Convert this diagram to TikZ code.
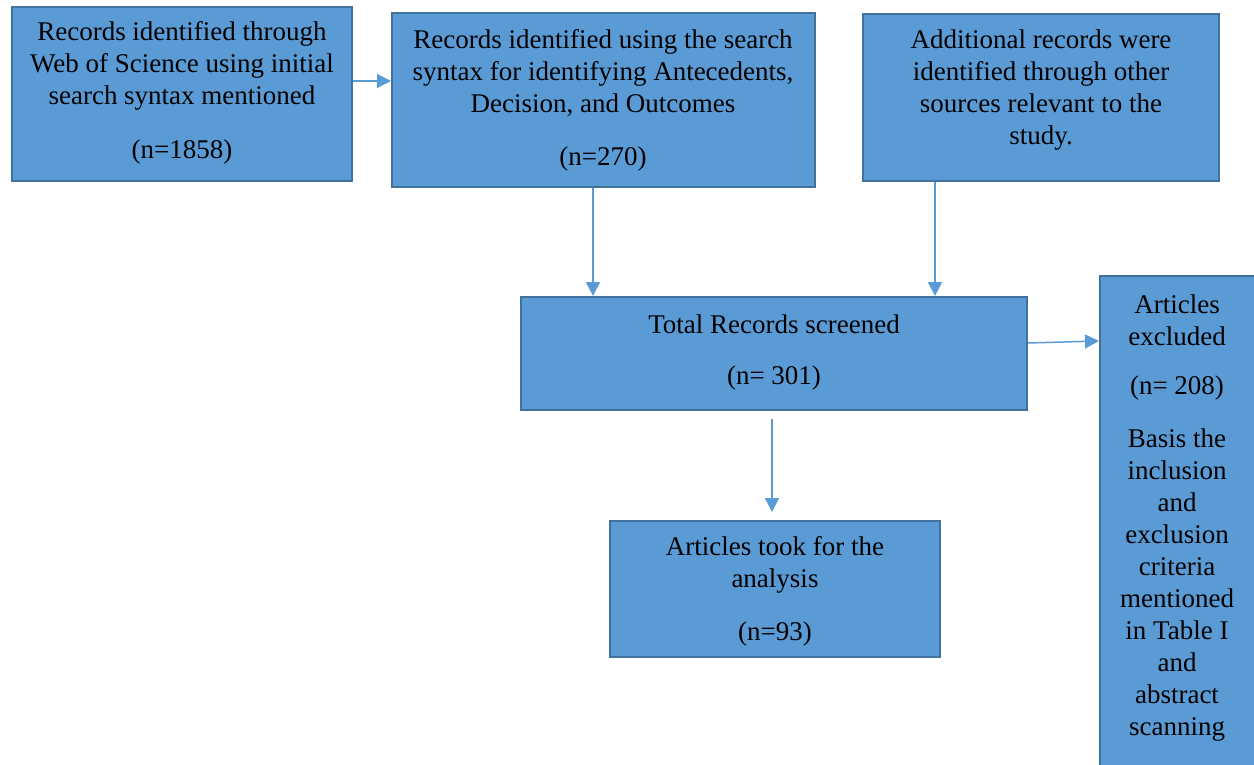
\documentclass[tikz,border=0pt]{standalone}
\usepackage{fontspec}
\setmainfont{Liberation Serif}
\usetikzlibrary{arrows.meta}
\definecolor{boxfill}{HTML}{5B9BD5}
\definecolor{boxline}{HTML}{41719C}
\begin{document}
\begin{tikzpicture}[x=1pt,y=-1pt,
  box/.style={draw=boxline, line width=2pt, fill=boxfill, rectangle, inner sep=0pt},
  txt/.style={inner sep=0pt, align=center, font=\fontsize{27}{32}\selectfont, text=black},
  conn/.style={draw=boxfill, line width=1.5pt, -{Triangle[width=14pt,length=14pt]}}]
\useasboundingbox (0,0) rectangle (1254,765);
\clip (0,0) rectangle (1254,765);
% boxes
\node[box, minimum width=340pt, minimum height=174pt] (A) at (182,94) {};
\node[box, minimum width=423pt, minimum height=174pt] (B) at (603.5,100) {};
\node[box, minimum width=356pt, minimum height=167pt] (C) at (1041,97.5) {};
\node[box, minimum width=506pt, minimum height=113pt] (D) at (774,353.5) {};
\node[box, minimum width=330pt, minimum height=136pt] (E) at (775,589) {};
\node[box, minimum width=170pt, minimum height=514pt] (F) at (1185,533) {};
% texts
\node[txt] (tA1) at (182,66) {Records identified through\\Web of Science using initial\\search syntax mentioned};
\node[txt] (tA2) at (182,152) {(n=1858)};
\node[txt] (tB1) at (603,73) {Records identified using the search\\syntax for identifying Antecedents,\\Decision, and Outcomes};
\node[txt] (tB2) at (603,159) {(n=270)};
\node[txt] (tC1) at (1041,90) {Additional records were\\identified through other\\sources relevant to the\\study.};
\node[txt] (tD1) at (774,324) {Total Records screened};
\node[txt] (tD2) at (774,378) {(n= 301)};
\node[txt] (tE1) at (775,565) {Articles took for the\\analysis};
\node[txt] (tE2) at (775,634) {(n=93)};
\node[txt] (tF1) at (1177,320) {Articles\\excluded};
\node[txt] (tF2) at (1177,388) {(n= 208)};
\node[txt] (tF3) at (1177,585) {Basis the\\inclusion\\and\\exclusion\\criteria\\mentioned\\in Table I\\and\\abstract\\scanning};
% helper coordinates
\coordinate (a1) at ([yshift=13pt]A.east);
\coordinate (xb) at (593,0);
\coordinate (xc) at (935,0);
\coordinate (d1) at ([yshift=10.5pt]D.east);
\coordinate (yf) at (0,341);
% connectors
\draw[conn] (a1) -- (a1 -| B.west);
\draw[conn] (B.south -| xb) -- (D.north -| xb);
\draw[conn] (C.south -| xc) -- (D.north -| xc);
\draw[conn] (d1) -- (F.west |- yf);
\draw[conn] ([xshift=-2pt,yshift=-8pt]D.south) -- ([xshift=-3pt,yshift=8pt]E.north);
\end{tikzpicture}
\end{document}
